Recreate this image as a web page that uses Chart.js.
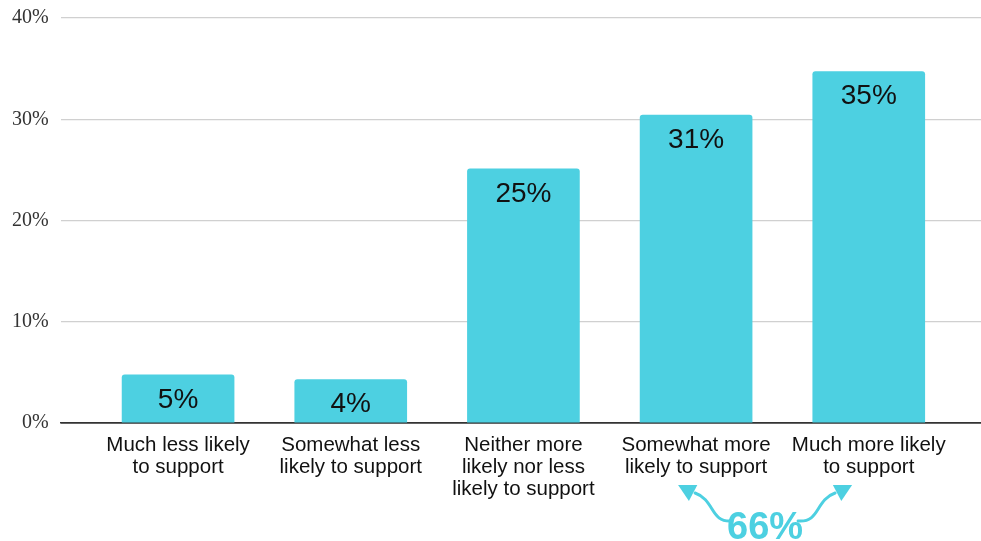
<!DOCTYPE html>
<html>
<head>
<meta charset="utf-8">
<script src="https://cdn.jsdelivr.net/npm/chart.js@4.4.1/dist/chart.umd.min.js"></script>
<style>
  html, body { margin: 0; padding: 0; background: #fff; }
  #wrap { width: 981px; height: 541px; }
</style>
</head>
<body>
<div id="wrap"><canvas id="chart" width="981" height="541"></canvas></div>
<script>
const categories = [
    ['Much less likely', 'to support'],
    ['Somewhat less', 'likely to support'],
    ['Neither more', 'likely nor less', 'likely to support'],
    ['Somewhat more', 'likely to support'],
    ['Much more likely', 'to support'],
];
const shares = [4.75, 4.3, 25.1, 30.4, 34.7];
const shareLabels = ['5%', '4%', '25%', '31%', '35%'];
const yTicks = [0, 10, 20, 30, 40];
const combinedLabel = '66%';

const barColor = '#4dd0e1';

// labels inside bars
const barLabels = {
    id: 'barLabels',
    afterDatasetsDraw(chart) {
        const ctx = chart.ctx;
        const meta = chart.getDatasetMeta(0);
        ctx.save();
        ctx.fillStyle = '#111';
        ctx.font = '28px "Liberation Sans", Arial, sans-serif';
        ctx.textAlign = 'center';
        ctx.textBaseline = 'middle';
        meta.data.forEach((bar, i) => {
            ctx.fillText(shareLabels[i], bar.x, bar.y + 25);
        });
        ctx.restore();
    }
};

function arrowHead(ctx, fromX, fromY, tipX, tipY) {
    const dx = tipX - fromX, dy = tipY - fromY;
    const len = Math.hypot(dx, dy);
    const ux = dx / len, uy = dy / len;
    const L = 17, W = 9;
    const bx = tipX - ux * L, by = tipY - uy * L;
    ctx.beginPath();
    ctx.moveTo(tipX, tipY);
    ctx.lineTo(bx - uy * W, by + ux * W);
    ctx.lineTo(bx + uy * W, by - ux * W);
    ctx.closePath();
    ctx.fill();
}

// "66%" with curved arrows under the two last categories
const combined = {
    id: 'combined',
    afterDraw(chart) {
        const ctx = chart.ctx;
        const x = chart.scales.x;
        const cx = x.getPixelForValue(3) + 69;
        const ty = 529;
        ctx.save();
        ctx.fillStyle = barColor;
        ctx.strokeStyle = barColor;
        ctx.font = 'bold 38px "Liberation Sans", Arial, sans-serif';
        ctx.textAlign = 'center';
        ctx.textBaseline = 'middle';
        ctx.fillText(combinedLabel, cx, ty);
        ctx.lineWidth = 3;
        ctx.lineCap = 'round';
        [-1, 1].forEach(s => {
            ctx.beginPath();
            ctx.moveTo(cx + s * 33, 521);
            ctx.bezierCurveTo(cx + s * 55, 523, cx + s * 50, 500, cx + s * 70, 493);
            ctx.stroke();
            arrowHead(ctx, cx + s * 70, 494, cx + s * 87, 485);
        });
        ctx.restore();
    }
};

new Chart(document.getElementById('chart'), {
    type: 'bar',
    data: {
        datasets: [{
            data: shares.map((v, i) => ({ x: i, y: v })),
            backgroundColor: barColor,
            borderRadius: { topLeft: 3, topRight: 3 },
            borderSkipped: 'bottom',
            barThickness: 112,
        }]
    },
    options: {
        responsive: false,
        animation: false,
        layout: { padding: { top: 18, right: 0, left: 0, bottom: 38 } },
        scales: {
            x: {
                type: 'linear',
                offset: false,
                min: -0.68,
                max: 4.65,
                afterBuildTicks: axis => {
                    axis.ticks = categories.map((c, i) => ({ value: i }));
                },
                ticks: {
                    color: '#111',
                    font: { family: '"Liberation Sans", Arial, sans-serif', size: 20.5, lineHeight: '22px' },
                    maxRotation: 0,
                    autoSkip: false,
                    padding: 3,
                    callback: v => categories[v],
                },
                grid: { display: false },
                border: { display: true, color: '#333', width: 1.5 },
            },
            y: {
                min: 0,
                max: 40,
                afterBuildTicks: axis => {
                    axis.ticks = yTicks.map(v => ({ value: v }));
                },
                afterFit: axis => {
                    axis.paddingTop = 0;
                    axis.paddingBottom = 0;
                },
                ticks: {
                    color: '#333',
                    font: { family: '"Liberation Serif", "Times New Roman", serif', size: 20 },
                    padding: 12,
                    callback: v => v + '%',
                },
                grid: {
                    color: ctx => ctx.tick.value === 0 ? '#333' : '#d0d0d0',
                    lineWidth: ctx => ctx.tick.value === 0 ? 1.5 : 1.2,
                    drawTicks: false,
                },
                border: { display: false },
            }
        },
        plugins: {
            legend: { display: false },
            tooltip: { enabled: false },
        }
    },
    plugins: [barLabels, combined]
});
</script>
</body>
</html>
